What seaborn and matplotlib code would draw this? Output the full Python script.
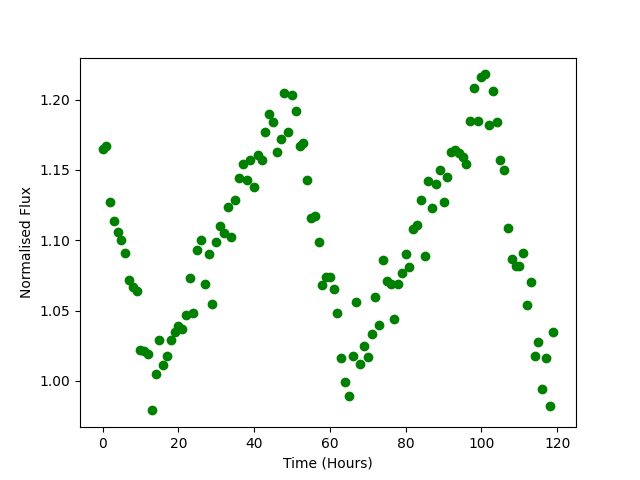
import numpy as np
import seaborn as sns
import matplotlib
matplotlib.use("Agg")
import matplotlib.pyplot as plt

# hourly samples
hours = list(range(120))

flux = [1.165, 1.167, 1.127, 1.114, 1.106, 1.100, 1.091, 1.072, 1.067, 1.064,
        1.022, 1.021, 1.019, 0.979, 1.005, 1.029, 1.011, 1.018, 1.029, 1.035,
        1.039, 1.037, 1.047, 1.073, 1.048, 1.093, 1.100, 1.069, 1.090, 1.055,
        1.099, 1.110, 1.105, 1.124, 1.102, 1.129, 1.144, 1.154, 1.143, 1.157,
        1.138, 1.161, 1.157, 1.177, 1.190, 1.184, 1.163, 1.172, 1.205, 1.177,
        1.203, 1.192, 1.167, 1.169, 1.143, 1.116, 1.117, 1.099, 1.068, 1.074,
        1.074, 1.065, 1.048, 1.016, 0.999, 0.989, 1.018, 1.056, 1.012, 1.025,
        1.017, 1.033, 1.060, 1.040, 1.086, 1.071, 1.069, 1.044, 1.069, 1.077,
        1.090, 1.081, 1.108, 1.111, 1.129, 1.089, 1.142, 1.123, 1.140, 1.150,
        1.127, 1.145, 1.163, 1.164, 1.162, 1.159, 1.154, 1.185, 1.208, 1.185,
        1.216, 1.218, 1.182, 1.206, 1.184, 1.157, 1.150, 1.109, 1.087, 1.082,
        1.082, 1.091, 1.054, 1.070, 1.018, 1.028, 0.994, 1.016, 0.982, 1.035]

fig, ax = plt.subplots(figsize=(6.4, 4.8), dpi=100)
sns.scatterplot(x=hours, y=flux, color="green", s=36, edgecolor="green",
                linewidth=1, ax=ax)

ax.set_xlabel("Time (Hours)")
ax.set_ylabel("Normalised Flux")

fig.savefig("out.png")
